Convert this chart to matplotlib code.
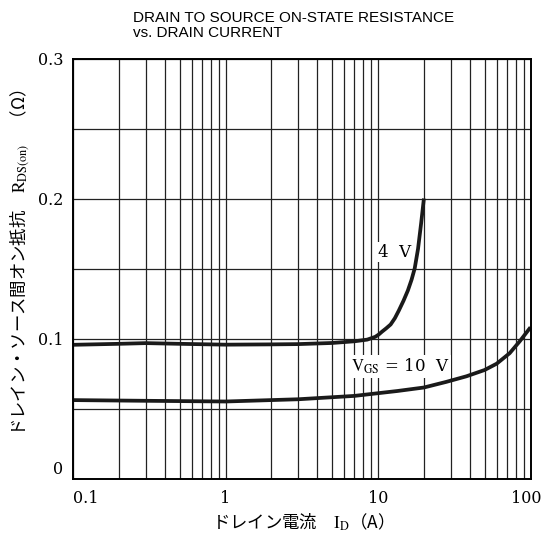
import numpy as np
import matplotlib.pyplot as plt
from matplotlib.ticker import FixedLocator, NullFormatter
from matplotlib.transforms import ScaledTranslation

plt.rcParams['font.family'] = ['Noto Sans CJK JP', 'DejaVu Sans']
plt.rcParams['mathtext.fontset'] = 'stix'

# drain current (A) / on-state resistance (ohm)
id_4v = [0.1, 0.2, 0.3, 0.5, 1, 2, 3, 5, 7, 8.5, 9.6, 10.1, 10.6, 11.3, 12.1, 12.9, 13.7,
         14.7, 15.7, 16.6, 17.4, 18.3, 19.2, 20]
r_4v = [0.0955, 0.0962, 0.0967, 0.0962, 0.0956, 0.0958, 0.096, 0.0968, 0.098, 0.0992,
        0.1012, 0.1028, 0.1048, 0.1072, 0.110, 0.1145, 0.120, 0.127, 0.1343, 0.142,
        0.150, 0.164, 0.1827, 0.2]

id_10v = [0.1, 0.3, 1, 3, 7, 13.4, 20, 28, 38, 50, 60, 73, 85, 100]
r_10v = [0.056, 0.0555, 0.055, 0.0566, 0.059, 0.0625, 0.065, 0.069, 0.073, 0.0775,
         0.082, 0.0895, 0.098, 0.108]

x_ticks = [0.1, 1, 10, 100]
x_ticklabels = ['0.1', '1', '10', '100']
y_ticks = [0, 0.1, 0.2, 0.3]
y_ticklabels = ['0', '0.1', '0.2', '0.3']

fig = plt.figure(figsize=(5.44, 5.35), dpi=100)
ax = fig.add_axes([73 / 544, 1 - 478.5 / 535, 457.5 / 544, 420 / 535])

ax.set_xscale('log')
ax.set_xlim(0.1, 100)
ax.set_ylim(0, 0.3)

minor = [m * 10.0 ** e for e in range(-1, 2) for m in range(2, 10)]
ax.xaxis.set_major_locator(FixedLocator(x_ticks))
ax.xaxis.set_minor_locator(FixedLocator(minor))
ax.xaxis.set_minor_formatter(NullFormatter())
ax.set_xticklabels(x_ticklabels)
ax.set_yticks(y_ticks)
ax.set_yticks(np.arange(0, 0.301, 0.05), minor=True)
ax.set_yticklabels(y_ticklabels)

ax.grid(which='both', color='#222222', linewidth=0.9)
ax.tick_params(which='both', length=0)
ax.tick_params(axis='x', pad=8)
ax.tick_params(axis='y', pad=7)
for lab in ax.get_xticklabels() + ax.get_yticklabels():
    lab.set_fontfamily('DejaVu Serif')
    lab.set_fontsize(11.5)
xlabs = ax.get_xticklabels()
xlabs[0].set_horizontalalignment('left')
xlabs[-1].set_horizontalalignment('right')
xlabs[-1].set_transform(xlabs[-1].get_transform() + ScaledTranslation(11 / 100, 0, fig.dpi_scale_trans))
ax.get_yticklabels()[0].set_verticalalignment('bottom')
for s in ax.spines.values():
    s.set_linewidth(1.4)

ax.plot(id_4v, r_4v, color='#1a1a1a', linewidth=2.7, solid_capstyle='butt')
ax.plot(id_10v, r_10v, color='#1a1a1a', linewidth=2.7, solid_capstyle='butt')

ax.text(12.9, 0.1616, '4  V', ha='center', va='center', fontsize=12,
        fontfamily='DejaVu Serif', bbox=dict(facecolor='white', edgecolor='none', pad=1))
ax.text(14, 0.080, r'$\mathrm{V_{GS}}$ = 10  V', ha='center', va='center', fontsize=12,
        fontfamily='DejaVu Serif', bbox=dict(facecolor='white', edgecolor='none', pad=1))

fig.text(133 / 544, 1 - 11 / 535, 'DRAIN TO SOURCE ON-STATE RESISTANCE\nvs. DRAIN CURRENT',
         ha='left', va='top', fontsize=11, fontfamily='Liberation Sans', linespacing=1.05)

fig.text(20 / 544, 1 - 263 / 535, 'ドレイン・ソース間オン抵抗　$\\mathrm{R_{DS(on)}}$　（Ω）',
         rotation=90, ha='center', va='center', fontsize=12.5)
fig.text(298 / 544, 1 - 522 / 535, 'ドレイン電流　$\\mathrm{I_D}$（A）',
         ha='center', va='center', fontsize=12.5)

fig.savefig('out.png', dpi=100)
